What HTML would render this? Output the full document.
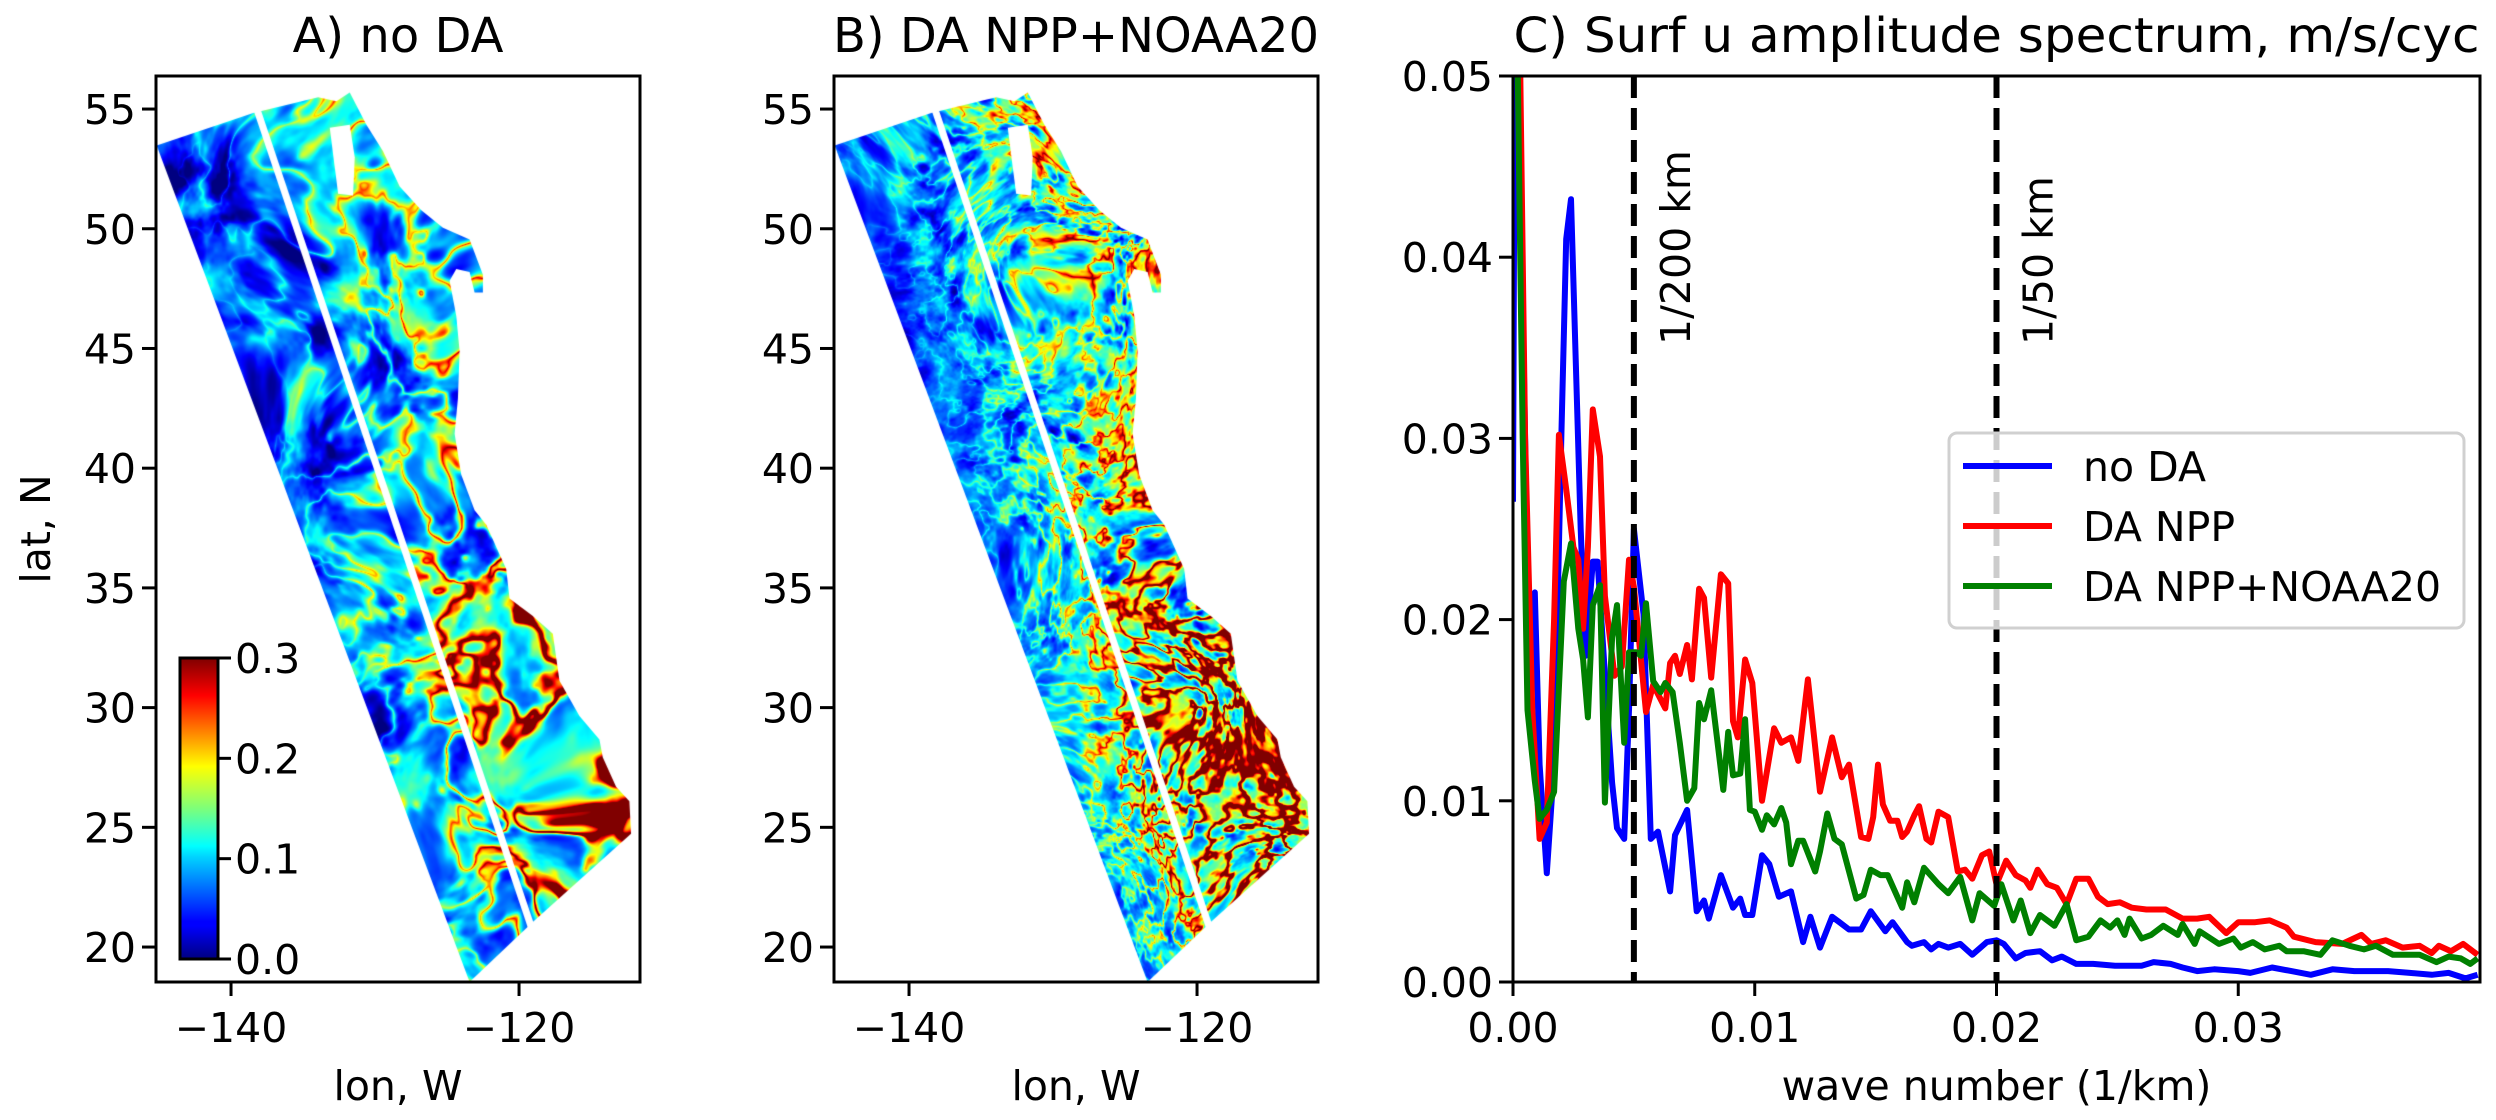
<!DOCTYPE html>
<html><head><meta charset="utf-8"><style>
html,body{margin:0;padding:0;background:#fff;width:2496px;height:1120px;overflow:hidden}
canvas{position:absolute}
svg{position:absolute;left:0;top:0}
text{font-family:"DejaVu Sans","Liberation Sans",sans-serif;fill:#000}
</style></head><body>
<canvas id="mapA" width="484" height="906" style="left:156px;top:76px"></canvas>
<canvas id="mapB" width="484" height="906" style="left:834px;top:76px"></canvas>
<svg id="svg" width="2496" height="1120" xmlns="http://www.w3.org/2000/svg">
<defs>
<linearGradient id="jet" x1="0" y1="1" x2="0" y2="0">
<stop offset="0" stop-color="#00007f"/><stop offset="0.11" stop-color="#0000ff"/><stop offset="0.125" stop-color="#0000ff"/>
<stop offset="0.34" stop-color="#00d4ff"/><stop offset="0.375" stop-color="#00ffff"/><stop offset="0.5" stop-color="#7dff7a"/>
<stop offset="0.64" stop-color="#ffff00"/><stop offset="0.875" stop-color="#ff0000"/><stop offset="1" stop-color="#7f0000"/>
</linearGradient>
<clipPath id="clipC"><rect x="1513" y="76" width="967" height="906"/></clipPath>
</defs>
<g id="axA"></g>
<g id="axB"></g>
<g id="axC"></g>
</svg>
<script>
// ---------- spectrum data ----------
const blueK=[0,.0001,.0003,.0005,.0007,.0009,.0011,.0014,.0017,.0020,.0022,.0024,.0026,.0028,.0030,.0033,.0035,.0038,.0041,.0043,.0046,.0048,.005,.0054,.0057,.006,.0065,.0067,.0072,.0076,.0079,.0081,.0086,.0091,.0094,.0096,.0099,.0103,.0106,.011,.0115,.012,.0123,.0127,.0132,.0135,.0139,.0144,.0148,.0154,.0157,.0163,.0165,.017,.0173,.0176,.018,.0185,.019,.0196,.02,.0203,.0208,.0212,.0218,.0223,.0227,.0233,.024,.0249,.026,.0265,.0272,.0277,.0283,.029,.03,.0305,.0314,.0322,.033,.0339,.0348,.0362,.0371,.038,.0387,.0394,.0399];
const blueV=[.0265,.06,.045,.03,.015,.0215,.012,.006,.012,.03,.041,.0432,.034,.025,.018,.0232,.0232,.017,.011,.0085,.0079,.015,.025,.0203,.0079,.0083,.005,.0081,.0095,.0039,.0045,.0035,.0059,.0041,.0046,.0037,.0037,.007,.0065,.0047,.005,.0022,.0036,.0019,.0036,.0033,.0029,.0029,.0039,.0028,.0033,.0022,.002,.0022,.0018,.0021,.0019,.0021,.0015,.0022,.0023,.0021,.0013,.0016,.0017,.0012,.0014,.001,.001,.0009,.0009,.0011,.001,.0008,.0006,.0007,.0006,.0005,.0008,.0006,.0004,.0007,.0006,.0006,.0005,.0004,.0005,.0002,.0004];
const redK=[0,.0003,.0005,.0008,.0011,.0014,.0017,.0019,.0022,.0025,.0027,.0029,.0031,.0033,.0036,.0038,.0042,.0045,.0048,.005,.0055,.0058,.0063,.0065,.0067,.0069,.0072,.0074,.0077,.0079,.0082,.0086,.0089,.0091,.0093,.0096,.0099,.0103,.0108,.0111,.0115,.0118,.0122,.0127,.0132,.0136,.0139,.0144,.0147,.0149,.0151,.0153,.0156,.0159,.0161,.0163,.0166,.0168,.0171,.0173,.0176,.018,.0184,.0187,.019,.0194,.0197,.02,.0204,.0208,.0212,.0214,.0217,.0221,.0225,.0229,.0233,.0238,.0242,.0246,.0251,.0256,.0262,.027,.0277,.0283,.0288,.0295,.03,.0307,.0313,.032,.0323,.0332,.0343,.0351,.0355,.0361,.0368,.0375,.038,.0383,.0388,.0393,.0399];
const redV=[.06,.05,.03,.015,.0079,.0088,.02,.0302,.0272,.024,.0233,.0195,.024,.0316,.029,.0213,.0169,.0174,.0233,.0218,.0149,.0164,.0151,.0176,.018,.017,.0186,.0167,.0217,.0212,.0168,.0225,.022,.0144,.0135,.0178,.0165,.01,.014,.0132,.0135,.0122,.0167,.0105,.0135,.0113,.012,.008,.0079,.0091,.012,.0098,.0089,.0089,.008,.0083,.0092,.0097,.0079,.0077,.0094,.0091,.0061,.0062,.0057,.007,.0072,.0054,.0067,.0059,.0056,.0052,.0062,.0054,.0052,.0043,.0057,.0057,.0047,.0043,.0044,.0041,.004,.004,.0035,.0035,.0036,.0027,.0033,.0033,.0034,.003,.0025,.0022,.0021,.0026,.0021,.0023,.0019,.002,.0016,.002,.0017,.0021,.0015];
const greenK=[0,.0002,.0004,.0006,.0009,.0011,.0014,.0017,.0021,.0024,.0027,.0029,.0031,.0033,.0036,.0038,.0041,.0043,.0046,.0048,.0051,.0053,.0055,.0058,.0061,.0063,.0066,.0069,.0072,.0075,.0077,.0079,.0082,.0087,.0089,.0091,.0094,.0096,.0098,.01,.0103,.0105,.0108,.0111,.0113,.0115,.0118,.012,.0125,.0127,.013,.0133,.0136,.0142,.0145,.0148,.0152,.0155,.0161,.0163,.0166,.017,.0176,.018,.0185,.019,.0193,.0199,.0202,.0207,.021,.0214,.0218,.0224,.0229,.0233,.0238,.0243,.0247,.025,.0253,.0255,.026,.0264,.0269,.0275,.0277,.0282,.0284,.0292,.0298,.0301,.0306,.0311,.0317,.032,.0327,.0334,.0339,.0346,.0352,.0357,.0364,.0375,.0382,.0387,.0392,.0396,.0399];
const greenV=[.06,.05,.03,.015,.0111,.009,.0095,.0105,.0221,.0242,.0195,.0178,.0146,.0208,.0219,.0099,.019,.0208,.0132,.0182,.0182,.018,.0209,.0166,.016,.0165,.016,.0132,.01,.0107,.0154,.0145,.0161,.0106,.0138,.0114,.0115,.0145,.0095,.0094,.0084,.0092,.0087,.0096,.0088,.0065,.0078,.0078,.0061,.0072,.0093,.0079,.0076,.0046,.0048,.0062,.0059,.0059,.0041,.0055,.0044,.0063,.0054,.0049,.0058,.0034,.0049,.0042,.0054,.0034,.0045,.0027,.0037,.0031,.0043,.0023,.0025,.0034,.003,.0034,.0026,.0035,.0024,.0026,.0031,.0026,.0032,.0021,.0028,.0021,.0024,.0019,.0022,.0018,.002,.0017,.0017,.0015,.0023,.002,.0018,.002,.0015,.0015,.0011,.0014,.0013,.001,.0013];
const xTicksC=[0,0.01,0.02,0.03];
const xTickLabelsC=["0.00","0.01","0.02","0.03"];
const yTicksC=[0,0.01,0.02,0.03,0.04,0.05];
const yTickLabelsC=["0.00","0.01","0.02","0.03","0.04","0.05"];
const refLinesK=[0.005,0.02];
const refLineLabels=["1/200 km","1/50 km"];
const lonTicks=[-140,-120];
const lonTickLabels=["\u2212140","\u2212120"];
const latTicks=[20,25,30,35,40,45,50,55];
const cbTicks=[0,0.1,0.2,0.3];
const cbTickLabels=["0.0","0.1","0.2","0.3"];

const NS="http://www.w3.org/2000/svg";
function mk(parent,tag,attrs,txt){const e=document.createElementNS(NS,tag);for(const k in attrs)e.setAttribute(k,attrs[k]);if(txt!==undefined)e.textContent=txt;parent.appendChild(e);return e;}

// ---------- map axes ----------
const latTop=56.38, latBot=18.54, lonL=-145.21, lonR=-111.6;
const mapW=484, mapH=906;
function mapX(lon){return (lon-lonL)/(lonR-lonL)*mapW;}
function mapY(lat){return (latTop-lat)/(latTop-latBot)*mapH;}
function drawMapAxes(g,left,title,showYLabel){
  const top=76,bot=982,right=left+mapW;
  let t=mk(g,'text',{x:(left+right)/2,y:52,'font-size':48,'text-anchor':'middle'},title);
  
  
  let r=mk(g,'rect',{x:left,y:top,width:mapW,height:bot-top,fill:'none',stroke:'#000','stroke-width':3});
  
  
  lonTicks.forEach((v,i)=>{const x=left+mapX(v);
    const l=mk(g,'line',{x1:x,x2:x,y1:bot,y2:bot+14,stroke:'#000','stroke-width':3});
    
    
    const tx=mk(g,'text',{x:x,y:1042,'font-size':41,'text-anchor':'middle'},lonTickLabels[i]);
    
    });
  latTicks.forEach(v=>{const y=top+mapY(v);
    const l=mk(g,'line',{x1:left-14,x2:left,y1:y,y2:y,stroke:'#000','stroke-width':3});
    
    
    const tx=mk(g,'text',{x:left-20,y:y+15,'font-size':41,'text-anchor':'end'},String(v));
    
    });
  const xl=mk(g,'text',{x:(left+right)/2,y:1100,'font-size':41,'text-anchor':'middle'},'lon, W');
  
  
  if(showYLabel){const yl=mk(g,'text',{x:0,y:0,'font-size':41,'text-anchor':'middle',transform:'translate(50,529) rotate(-90)'},'lat, N');
    
    }
}
drawMapAxes(document.getElementById('axA'),156,'A) no DA',true);
drawMapAxes(document.getElementById('axB'),834,'B) DA NPP+NOAA20',false);

// ---------- procedural field (texture, not data) ----------
function hash(ix,iy,s){let h=(ix*374761393+iy*668265263+s*2147483647)|0;h=(h^(h>>>13))*1274126177|0;h=h^(h>>>16);return (h>>>0)/4294967295;}
function vnoise(x,y,s){const ix=Math.floor(x),iy=Math.floor(y);let fx=x-ix,fy=y-iy;fx=fx*fx*(3-2*fx);fy=fy*fy*(3-2*fy);
  const a=hash(ix,iy,s),b=hash(ix+1,iy,s),c=hash(ix,iy+1,s),d=hash(ix+1,iy+1,s);
  return a+(b-a)*fx+(c-a)*fy+(a-b-c+d)*fx*fy;}
function fbm(x,y,s,o){let v=0,a=0.5,f=1,n=0;for(let i=0;i<o;i++){v+=a*vnoise(x*f,y*f,s+i*7);n+=a;a*=0.5;f*=2;}return v/n;}
function jet(t){t=Math.max(0,Math.min(1,t));const c=u=>Math.max(0,Math.min(1,1.5-Math.abs(4*t-u)));return [255*c(3),255*c(2),255*c(1)];}
const outlineRef=[[20,130],[310,75],[505,48],[560,55],[600,40],[650,95],[700,140],[750,200],[815,240],[880,270],[960,290],[1000,350],[1000,380],[975,380],[960,345],[920,340],[900,360],[920,420],[930,480],[925,560],[915,620],[935,690],[975,750],[1010,775],[1070,850],[1080,900],[1150,930],[1210,960],[1230,1040],[1290,1100],[1350,1140],[1360,1170],[1400,1220],[1440,1245],[1445,1300],[1150,1450],[960,1552]];
const holeRef=[[540,100],[600,95],[615,150],[610,215],[565,212]];
function rx(z){return (z-18)*0.3329;} function ry(z){return (z-12)*0.5883;}
function renderMap(id,isB){
  const cv=document.getElementById(id),ctx=cv.getContext('2d');
  const off=document.createElement('canvas');off.width=mapW;off.height=mapH;
  const octx=off.getContext('2d'),img=octx.createImageData(mapW,mapH),d=img.data;
  const x0=rx(20),y0=ry(130),x1=rx(960),y1=ry(1552);
  const ex=x1-x0,ey=y1-y0,el=Math.hypot(ex,ey),nx=-ey/el,ny=ex/el;
  const sc=isB?20:45, seed=isB?11:3;
  for(let y=0;y<mapH;y++)for(let x=0;x<mapW;x++){
    let dist=Math.abs((x-x0)*nx+(y-y0)*ny); let s=Math.min(1,dist/260);
    const south=Math.max(0,Math.min(1,(y-300)/400));
    const wx=x+30*(vnoise(x/90,y/90,seed+50)-0.5)*2, wy=y+30*(vnoise(x/90+9,y/90,seed+60)-0.5)*2;
    const n=fbm(wx/sc,wy/sc,seed,4);
    const r=1-Math.abs(2*fbm(wx/(sc*0.8),wy/(sc*0.8),seed+20,3)-1);
    let v;
    if(isB){v=0.045+0.07*s+0.03*south+(n-0.5)*0.26*(0.4+s)+0.45*Math.pow(r,6)*(0.15+s)*(0.35+0.9*south);}
    else{v=0.035+0.06*s+0.03*south+(n-0.5)*0.24+0.35*Math.pow(r,7)*(0.15+s)*(0.5+south);}
    const c=jet(v/0.3),k=(y*mapW+x)*4;d[k]=c[0];d[k+1]=c[1];d[k+2]=c[2];d[k+3]=255;}
  octx.putImageData(img,0,0);
  ctx.save();ctx.beginPath();outlineRef.forEach((p,i)=>{const px=rx(p[0]),py=ry(p[1]);i?ctx.lineTo(px,py):ctx.moveTo(px,py);});ctx.closePath();ctx.clip();
  ctx.drawImage(off,0,0);ctx.restore();
  ctx.fillStyle='#fff';ctx.beginPath();holeRef.forEach((p,i)=>{const px=rx(p[0]),py=ry(p[1]);i?ctx.lineTo(px,py):ctx.moveTo(px,py);});ctx.closePath();ctx.fill();
  ctx.strokeStyle='#fff';ctx.lineWidth=7;ctx.beginPath();ctx.moveTo(rx(322),ry(70));ctx.lineTo(rx(1145),ry(1458));ctx.stroke();
}
renderMap('mapA',false);renderMap('mapB',true);
(function(){const g=document.getElementById('axA');
  const cx=180,cw=38,ct=658,cb=959;
  const cr=mk(g,'rect',{x:cx,y:ct,width:cw,height:cb-ct,fill:'url(#jet)',stroke:'#000','stroke-width':3});
  
  
  cbTicks.forEach((v,i)=>{const y=cb-(v/0.3)*(cb-ct);
    const l=mk(g,'line',{x1:cx+cw,x2:cx+cw+13,y1:y,y2:y,stroke:'#000','stroke-width':3});
    
    
    const bg=mk(g,'rect',{x:cx+cw+14,y:y-20,width:62,height:38,fill:'#fff'});
    
    
    const tx=mk(g,'text',{x:cx+cw+17,y:y+15,'font-size':41},cbTickLabels[i]);
    
    });
})();

// ---------- spectrum panel ----------
const CL=1513,CR=2480,CT=76,CB=982,KMAX=0.04,VMAX=0.05;
function xS(k){return CL+k/KMAX*(CR-CL);}
function yS(v){return CB-v/VMAX*(CB-CT);}
(function(){
  const g=document.getElementById('axC');
  const t=mk(g,'text',{x:(CL+CR)/2,y:52,'font-size':48,'text-anchor':'middle',textLength:966,lengthAdjust:'spacingAndGlyphs'},'C) Surf u amplitude spectrum, m/s/cyc');
  
  
  const series=[[blueK,blueV,'#0000ff','no-da'],[redK,redV,'#ff0000','da-npp'],[greenK,greenV,'#008000','da-npp-noaa20']];
  const lg=mk(g,'g',{'clip-path':'url(#clipC)'});
  series.forEach(s=>{const pts=s[0].map((k,i)=>xS(k).toFixed(1)+','+yS(s[1][i]).toFixed(1)).join(' ');
    const p=mk(lg,'polyline',{points:pts,fill:'none',stroke:s[2],'stroke-width':6,'stroke-linejoin':'round'});
    
    });
  refLinesK.forEach((k,i)=>{const x=xS(k);
    const l=mk(g,'line',{x1:x,x2:x,y1:CT,y2:CB,stroke:'#000','stroke-width':6,'stroke-dasharray':'22 10'});
    
    
    const tx=mk(g,'text',{x:0,y:0,'font-size':41,transform:'translate('+(x+56)+',345) rotate(-90)'},refLineLabels[i]);
    
    });
  const fr=mk(g,'rect',{x:CL,y:CT,width:CR-CL,height:CB-CT,fill:'none',stroke:'#000','stroke-width':3});
  
  
  xTicksC.forEach((k,i)=>{const x=xS(k);
    const l=mk(g,'line',{x1:x,x2:x,y1:CB,y2:CB+14,stroke:'#000','stroke-width':3});
    
    
    const tx=mk(g,'text',{x:x,y:1042,'font-size':41,'text-anchor':'middle'},xTickLabelsC[i]);
    
    });
  yTicksC.forEach((v,i)=>{const y=yS(v);
    const l=mk(g,'line',{x1:CL-14,x2:CL,y1:y,y2:y,stroke:'#000','stroke-width':3});
    
    
    const tx=mk(g,'text',{x:CL-20,y:y+15,'font-size':41,'text-anchor':'end'},yTickLabelsC[i]);
    
    });
  const xl=mk(g,'text',{x:(CL+CR)/2,y:1100,'font-size':41,'text-anchor':'middle'},'wave number (1/km)');
  
  
  const leg=mk(g,'g',{});
  
  
  mk(leg,'rect',{x:1949,y:433,width:515,height:195,rx:8,fill:'#fff','fill-opacity':0.8,stroke:'#d0d0d0','stroke-width':3});
  const names=['no DA','DA NPP','DA NPP+NOAA20'];
  series.forEach((s,i)=>{const y=466+i*60;
    const e=mk(leg,'g',{});
    
    
    mk(e,'line',{x1:1963,x2:2052,y1:y,y2:y,stroke:s[2],'stroke-width':6});
    mk(e,'text',{x:2083,y:y+15,'font-size':41},names[i]);});
})();
</script>
</body></html>
